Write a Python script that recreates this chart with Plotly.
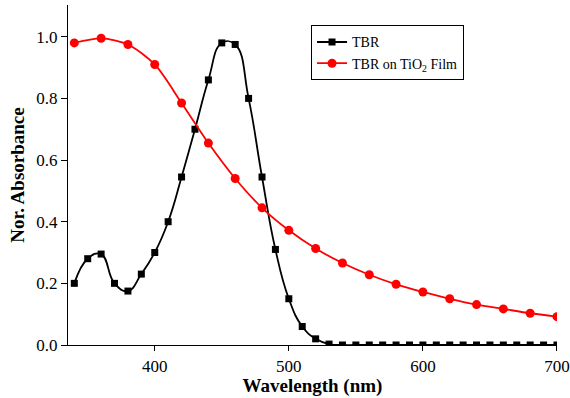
import plotly.graph_objects as go

# TBR in solution (squares, every 10 nm)
tbr_wl = [340, 350, 360, 370, 380, 390, 400, 410, 420, 430, 440, 450, 460, 470, 480,
          490, 500, 510, 520, 530, 540, 550, 560, 570, 580, 590, 600, 610, 620, 630,
          640, 650, 660, 670, 680, 690, 700]
tbr_abs = [0.20, 0.28, 0.295, 0.20, 0.175, 0.23, 0.30, 0.40, 0.545, 0.70, 0.86, 0.98,
           0.975, 0.80, 0.545, 0.31, 0.15, 0.06, 0.02, 0.003, 0.0, 0.0, 0.0, 0.0, 0.0,
           0.0, 0.0, 0.0, 0.0, 0.0, 0.0, 0.0, 0.0, 0.0, 0.0, 0.0, 0.0]

# TBR on TiO2 film (circles, every 20 nm)
film_wl = [340, 360, 380, 400, 420, 440, 460, 480, 500, 520, 540, 560, 580, 600, 620,
           640, 660, 680, 700]
film_abs = [0.98, 0.995, 0.975, 0.91, 0.785, 0.655, 0.54, 0.445, 0.372, 0.313, 0.266,
            0.228, 0.197, 0.172, 0.15, 0.131, 0.117, 0.103, 0.092]

FONT = "Liberation Serif, Times New Roman, Times, serif"

fig = go.Figure()
fig.add_trace(go.Scatter(
    x=tbr_wl, y=tbr_abs, mode="lines+markers", name="TBR",
    line=dict(color="black", width=1.8, shape="spline", smoothing=1.3),
    marker=dict(symbol="square", size=7, color="black"),
))
fig.add_trace(go.Scatter(
    x=film_wl, y=film_abs, mode="lines+markers", name="TBR on TiO<sub>2</sub> Film",
    line=dict(color="#ff0000", width=1.8, shape="spline", smoothing=0.8),
    marker=dict(symbol="circle", size=9, color="#ff0000"),
))

fig.update_layout(
    width=570, height=398,
    margin=dict(l=68, r=13, t=5, b=53),
    paper_bgcolor="white", plot_bgcolor="white",
    font=dict(family=FONT, color="black", size=17),
    showlegend=True,
    legend=dict(
        x=0.497, y=0.94, xanchor="left", yanchor="top",
        bordercolor="black", borderwidth=1, bgcolor="white",
        font=dict(family=FONT, size=14, color="black"),
        tracegroupgap=0, itemwidth=30,
    ),
)
fig.update_xaxes(
    range=[335.3, 700.02], tickvals=[400, 500, 600, 700], automargin=False,
    showline=True, linecolor="black", linewidth=1.2,
    ticks="outside", ticklen=5, tickcolor="black", tickwidth=1.2,
    showgrid=False, zeroline=False,
    tickfont=dict(family=FONT, size=17, color="black"),
    title=dict(text="<b>Wavelength (nm)</b>", font=dict(family=FONT, size=19, color="black"), standoff=2),
)
fig.update_yaxes(
    range=[0, 1.103], tickvals=[0.0, 0.2, 0.4, 0.6, 0.8, 1.0],
    ticktext=["0.0", "0.2", "0.4", "0.6", "0.8", "1.0"], automargin=False,
    showline=True, linecolor="black", linewidth=1.2,
    ticks="outside", ticklen=6, tickcolor="black", tickwidth=1.2,
    showgrid=False, zeroline=False,
    tickfont=dict(family=FONT, size=17, color="black"),
    title=dict(text="<b>Nor. Absorbance</b>", font=dict(family=FONT, size=19, color="black"), standoff=6),
)

fig.write_html("out.html")
